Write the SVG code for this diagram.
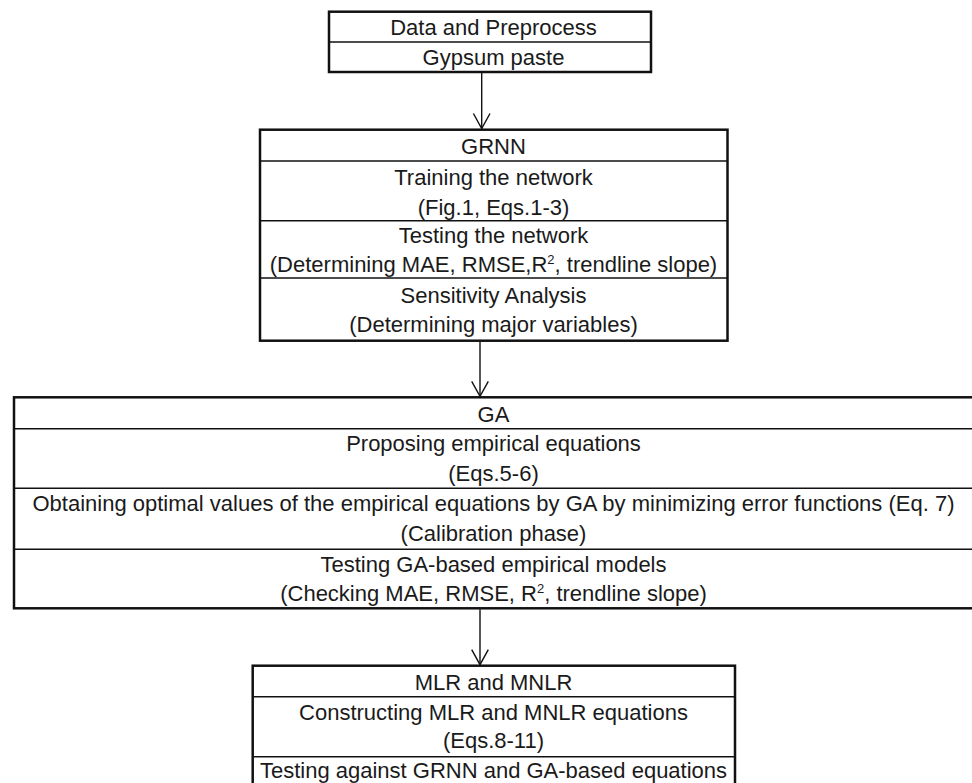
<svg xmlns="http://www.w3.org/2000/svg" width="972" height="783" viewBox="0 0 972 783">
<defs>
<style>
.box{fill:#fff;stroke:#111;stroke-width:2.5}
.div{stroke:#111;stroke-width:1.6}
.t{font-family:"Liberation Sans",Arial,sans-serif;font-size:22px;fill:#1a1a1a;text-anchor:middle}
.sup{font-size:13px}
.conn{stroke:#111;stroke-width:1.4;fill:none}
</style>
<marker id="arr" viewBox="0 0 20 20" refX="18" refY="10" markerWidth="20" markerHeight="20" markerUnits="userSpaceOnUse" orient="auto">
<path d="M3 1.7 L18 10 L3 18.3" fill="none" stroke="#111" stroke-width="1.4"/>
</marker>
</defs>
<rect width="972" height="783" fill="#fff"/>

<g id="data">
<rect class="box" x="329" y="11.7" width="322" height="60.3"/>
<line class="div" x1="329" y1="42" x2="651" y2="42"/>
<text class="t" x="493.5" y="35">Data and Preprocess</text>
<text class="t" x="493.5" y="65">Gypsum paste</text>
</g>

<g id="grnn">
<rect class="box" x="260" y="129.7" width="467.5" height="211"/>
<line class="div" x1="260" y1="161" x2="727.5" y2="161"/>
<line class="div" x1="260" y1="220.7" x2="727.5" y2="220.7"/>
<line class="div" x1="260" y1="278" x2="727.5" y2="278"/>
<text class="t" x="493.5" y="154">GRNN</text>
<text class="t" x="493.5" y="184.5">Training the network</text>
<text class="t" x="493.5" y="214.5">(Fig.1, Eqs.1-3)</text>
<text class="t" x="493.5" y="243">Testing the network</text>
<text class="t" x="493.5" y="272">(Determining MAE, RMSE,R<tspan class="sup" dy="-8">2</tspan><tspan dy="8">, trendline slope)</tspan></text>
<text class="t" x="493.5" y="302.5">Sensitivity Analysis</text>
<text class="t" x="493.5" y="331.5">(Determining major variables)</text>
</g>

<g id="ga">
<rect class="box" x="14" y="397.3" width="962" height="211"/>
<line class="div" x1="14" y1="428.7" x2="976" y2="428.7"/>
<line class="div" x1="14" y1="488.3" x2="976" y2="488.3"/>
<line class="div" x1="14" y1="549.3" x2="976" y2="549.3"/>
<text class="t" x="493.5" y="421.5">GA</text>
<text class="t" x="493.5" y="451">Proposing empirical equations</text>
<text class="t" x="493.5" y="481">(Eqs.5-6)</text>
<text class="t" x="493.5" y="511">Obtaining optimal values of the empirical equations by GA by minimizing error functions (Eq. 7)</text>
<text class="t" x="493.5" y="540.5">(Calibration phase)</text>
<text class="t" x="493.5" y="571.5">Testing GA-based empirical models</text>
<text class="t" x="493.5" y="600.5">(Checking MAE, RMSE, R<tspan class="sup" dy="-8">2</tspan><tspan dy="8">, trendline slope)</tspan></text>
</g>

<g id="mlr">
<rect class="box" x="252.7" y="665.7" width="482.3" height="140"/>
<line class="div" x1="252.7" y1="696.7" x2="735" y2="696.7"/>
<line class="div" x1="252.7" y1="756.7" x2="735" y2="756.7"/>
<text class="t" x="493.5" y="690">MLR and MNLR</text>
<text class="t" x="493.5" y="720">Constructing MLR and MNLR equations</text>
<text class="t" x="493.5" y="748">(Eqs.8-11)</text>
<text class="t" x="493.5" y="778">Testing against GRNN and GA-based equations</text>
</g>

<g id="connectors">
<line class="conn" x1="481.7" y1="73" x2="481.7" y2="128.5" marker-end="url(#arr)"/>
<line class="conn" x1="480" y1="341.5" x2="480" y2="396.3" marker-end="url(#arr)"/>
<line class="conn" x1="480" y1="609.3" x2="480" y2="664.7" marker-end="url(#arr)"/>
</g>
</svg>
